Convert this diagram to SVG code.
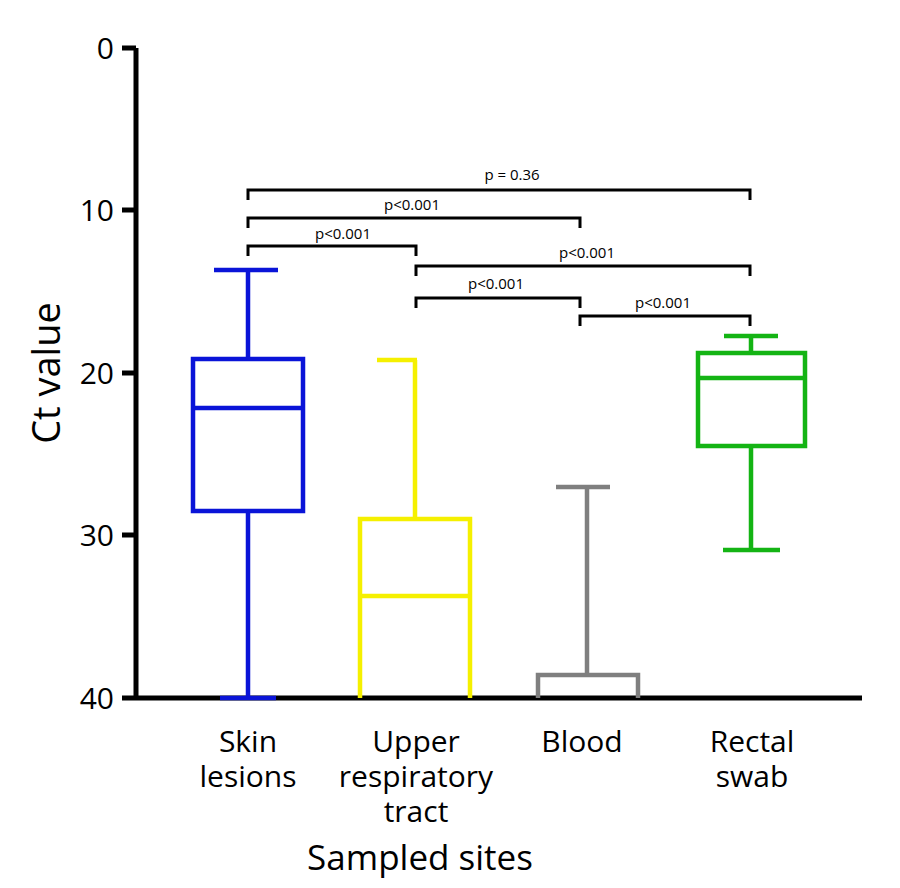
<svg xmlns="http://www.w3.org/2000/svg" width="900" height="888" viewBox="0 0 900 888">
<style>
text{font-family:"Open Sans","Liberation Sans",sans-serif;fill:#000}
.tick{font-size:30px;text-anchor:end}
.cat{font-size:30px;text-anchor:middle}
.p{font-size:15px;text-anchor:middle}
.ax{stroke:#000;stroke-width:5;fill:none}
.br{stroke:#000;stroke-width:3;fill:none}
.bx{stroke-width:4.5;fill:none}
</style>
<rect width="900" height="888" fill="#fff"/>
<g id="axes">
<path class="ax" d="M136,48V698H862M122,48H136M122,210H136M122,373H136M122,535H136M122,698H136"/>
<text class="tick" x="114" y="59">0</text>
<text class="tick" x="114" y="221">10</text>
<text class="tick" x="114" y="384">20</text>
<text class="tick" x="114" y="546">30</text>
<text class="tick" x="114" y="709">40</text>
<text x="60" y="373" font-size="38" text-anchor="middle" transform="rotate(-90 60 373)">Ct value</text>
<text class="cat" x="248" y="752">Skin</text><text class="cat" x="248" y="787">lesions</text>
<text class="cat" x="416" y="752">Upper</text><text class="cat" x="416" y="787">respiratory</text><text class="cat" x="416" y="822">tract</text>
<text class="cat" x="582" y="752">Blood</text>
<text class="cat" x="752" y="752">Rectal</text><text class="cat" x="752" y="787">swab</text>
<text x="420" y="870" font-size="35" text-anchor="middle">Sampled sites</text>
</g>
<g id="skin">
<path class="bx" stroke="#0a14d8" d="M193,359H303V511H193ZM193,408H303M248,359V270M214,270H278M248,511V698M220,698H276"/>
</g>
<g id="upper">
<path class="bx" stroke="#f5f000" d="M360,698V519H470V698M360,596H470M415,519V360M377,360H417"/>
</g>
<g id="blood">
<path class="bx" stroke="#7f7f7f" d="M538,698V675H638V698M587,675V487M556,487H610"/>
</g>
<g id="rectal">
<path class="bx" stroke="#14b414" d="M698,353H805V446H698ZM698,378H805M751,353V336M724,336H778M751,446V550M723,550H780"/>
</g>
<g id="connectors">
<path class="br" d="M248,200V190H750V200"/>
<path class="br" d="M248,228V218H580V228"/>
<path class="br" d="M248,256V246H416V256"/>
<path class="br" d="M416,276V266H750V276"/>
<path class="br" d="M416,308V298H580V308"/>
<path class="br" d="M580,326V316H750V326"/>
<text class="p" x="512" y="180">p = 0.36</text>
<text class="p" x="412" y="210">p&lt;0.001</text>
<text class="p" x="343" y="239">p&lt;0.001</text>
<text class="p" x="587" y="258">p&lt;0.001</text>
<text class="p" x="496" y="289">p&lt;0.001</text>
<text class="p" x="663" y="308">p&lt;0.001</text>
</g>
</svg>
